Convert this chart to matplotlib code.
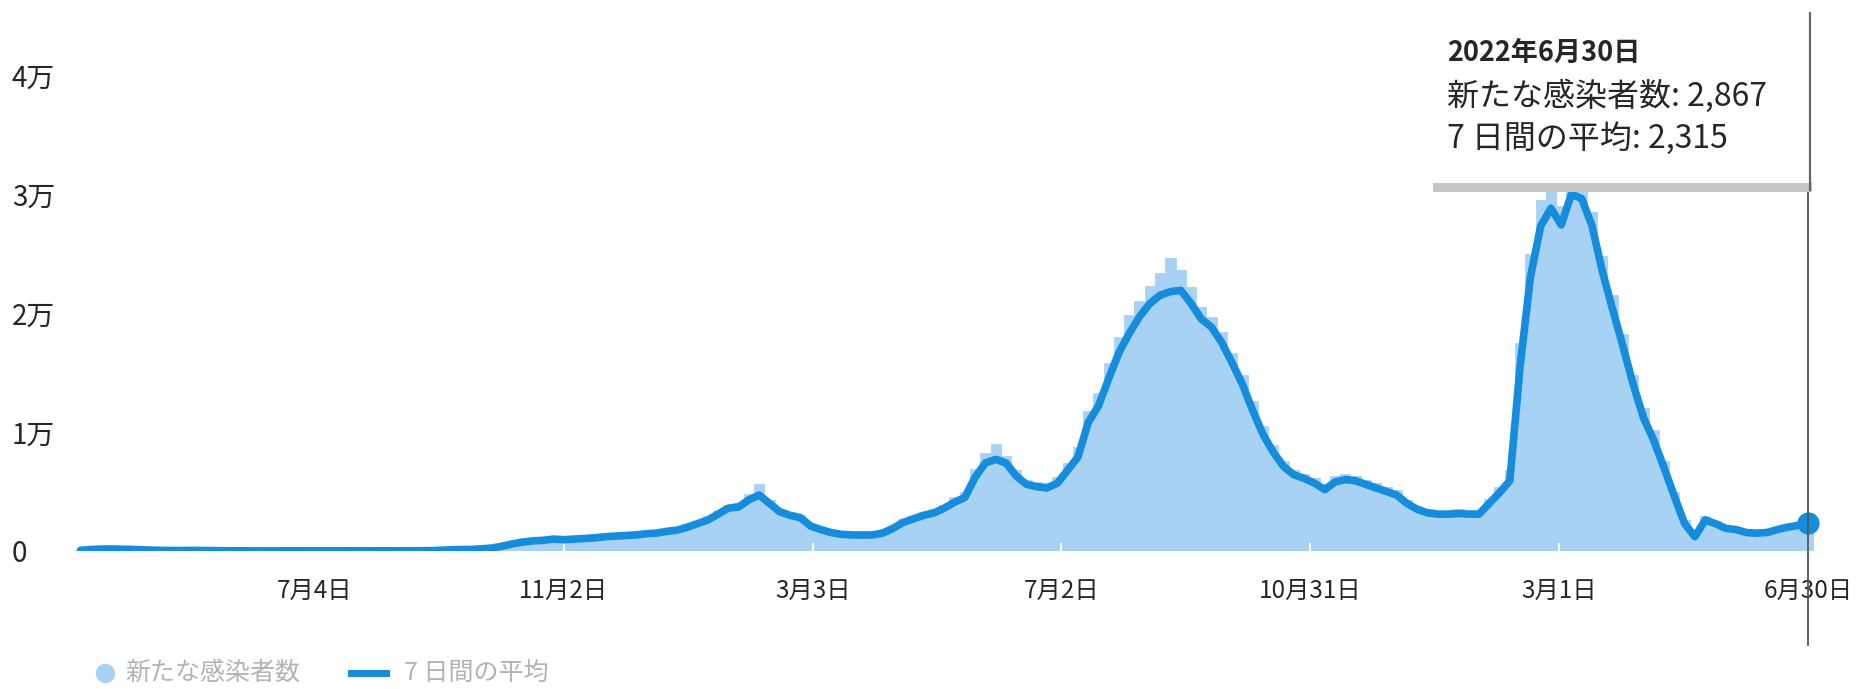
import numpy as np
import pandas as pd
import matplotlib
matplotlib.use('Agg')
import matplotlib.pyplot as plt
import matplotlib.dates as mdates
import matplotlib.transforms as mtransforms
from matplotlib.patches import Rectangle
from matplotlib.lines import Line2D

plt.rcParams['font.family'] = ['Noto Sans CJK JP', 'DejaVu Sans']

# ---------------- data ----------------
end_date = '2022-06-30'
step = '5D'

daily_cases = [
    80, 150, 190, 180, 170, 140, 110, 80, 60, 50,
    45, 60, 50, 35, 25, 20, 12, 12, 12, 10,
    12, 12, 10, 20, 12, 12, 18, 25, 18, 18,
    18, 25, 22, 25, 40, 80, 120, 140, 160, 230,
    320, 520, 700, 850, 950, 1000, 1100, 1050, 1150, 1200,
    1250, 1350, 1400, 1450, 1500, 1600, 1700, 1850, 1950, 2250,
    2550, 2900, 3400, 3900, 4000, 4800, 5600, 4300, 3500, 3300,
    3000, 2300, 1950, 1700, 1500, 1450, 1450, 1500, 1700, 2100,
    2700, 2900, 3300, 3500, 3900, 4500, 5000, 6900, 8200, 9000,
    8000, 6800, 6000, 5800, 5700, 6200, 7400, 8700, 11800, 13300,
    15800, 18000, 19800, 21000, 22300, 23400, 24600, 23600, 22200, 20500,
    19700, 18400, 16600, 14800, 12600, 10500, 8900, 7600, 6800, 6500,
    6100, 5600, 6300, 6500, 6300, 6000, 5700, 5400, 5100, 4300,
    3800, 3500, 3400, 3400, 3500, 3300, 3400, 4400, 5400, 6800,
    17500, 25000, 29500, 31500, 29000, 32000, 31000, 28500, 24800, 21500,
    18200, 14800, 12000, 10200, 7600, 5000, 2600, 1500, 2900, 2500,
    2100, 2000, 1700, 1650, 1700, 2000, 2200, 2400, 2867,
]

avg_7day = [
    60, 120, 160, 170, 150, 130, 100, 70, 50, 40,
    40, 50, 40, 30, 20, 15, 10, 10, 10, 10,
    10, 10, 10, 15, 10, 10, 15, 20, 15, 15,
    15, 20, 20, 20, 30, 60, 100, 120, 130, 180,
    250, 400, 600, 750, 850, 900, 1000, 950, 1000, 1050,
    1100, 1200, 1250, 1300, 1350, 1450, 1500, 1650, 1750, 2000,
    2300, 2600, 3100, 3600, 3700, 4300, 4700, 4000, 3300, 3000,
    2800, 2100, 1800, 1550, 1400, 1350, 1340, 1350, 1500, 1900,
    2400, 2700, 3000, 3200, 3600, 4100, 4500, 6200, 7400, 7700,
    7400, 6300, 5600, 5400, 5300, 5700, 6800, 7900, 10800, 12200,
    14500, 16700, 18300, 19700, 20800, 21500, 21800, 21900, 20800, 19500,
    18800, 17500, 15800, 14000, 11800, 9800, 8300, 7100, 6400, 6100,
    5700, 5150, 5800, 6000, 5900, 5600, 5300, 5000, 4700, 4000,
    3500, 3200, 3100, 3100, 3150, 3100, 3100, 4000, 4900, 5900,
    15500, 23000, 27300, 28800, 27400, 30000, 29600, 27300, 23500, 20300,
    17200, 14000, 11200, 9300, 7000, 4600, 2300, 1200, 2600, 2300,
    1900, 1800, 1550, 1500, 1550, 1800, 2000, 2150, 2315,
]

x_tick_dates = ['2020-07-04', '2020-11-02', '2021-03-03', '2021-07-02',
                '2021-10-31', '2022-03-01', '2022-06-30']
x_tick_labels = ['7月4日', '11月2日', '3月3日', '7月2日', '10月31日', '3月1日', '6月30日']
y_ticks = [0, 10000, 20000, 30000, 40000]
y_tick_labels = ['0', '1万', '2万', '3万', '4万']

tooltip_title = '2022年6月30日'
tooltip_lines = ['新たな感染者数: 2,867', '7 日間の平均: 2,315']
legend_labels = ['新たな感染者数', '7 日間の平均']

# ---------------- style ----------------
LINE_C = '#168cdc'
BAR_C = '#a8d2f3'
TXT_C = '#262626'

W, H = 1864, 689
fig = plt.figure(figsize=(W / 100, H / 100), dpi=100)
fig.patch.set_facecolor('white')


def fx(px):
    return px / W


def fy(py):
    return 1 - py / H


# axes geometry in pixels
ax_l, ax_r, ax_b, ax_t = 60, 1830, 551, 75
ax = fig.add_axes([fx(ax_l), fy(ax_b), (ax_r - ax_l) / W, (ax_b - ax_t) / H])

dates = pd.date_range(end=end_date, periods=len(avg_7day), freq=step)
xnum = mdates.date2num(dates)
end_num = mdates.date2num(pd.Timestamp(end_date))
px_per_day = 2.0565
ax.set_xlim(end_num - (1808 - ax_l) / px_per_day, end_num + (ax_r - 1808) / px_per_day)
ax.set_ylim(0, 40000)

ax.bar(xnum, daily_cases, width=5.0, color=BAR_C, edgecolor=BAR_C, linewidth=0.6,
       align='center', zorder=1)
ax.plot(xnum, avg_7day, color=LINE_C, lw=5.5, solid_joinstyle='round',
        solid_capstyle='round', zorder=3)
ax.plot([xnum[-1]], [avg_7day[-1]], 'o', color=LINE_C, ms=15, zorder=4, clip_on=False)

for s in ax.spines.values():
    s.set_visible(False)

ax.set_xticks(mdates.date2num(pd.to_datetime(x_tick_dates)))
ax.set_xticklabels(x_tick_labels, fontsize=17.5, color=TXT_C)
ax.tick_params(axis='x', direction='in', length=6, width=1.5, color='white', pad=19)
ax.set_axisbelow(False)

ax.set_yticks(y_ticks)
ax.set_yticklabels(y_tick_labels, fontsize=20, color=TXT_C)
ax.tick_params(axis='y', length=0, pad=(ax_l - 12) * 0.72)
for lab in ax.get_yticklabels():
    lab.set_horizontalalignment('left')

# crosshair line
trans = mtransforms.blended_transform_factory(ax.transData, fig.transFigure)
ax.add_line(Line2D([end_num, end_num], [fy(645), fy(13)], transform=trans,
                   color='#555555', lw=1.3, zorder=6, clip_on=False))

# tooltip box
fig.patches.append(Rectangle((fx(1433), fy(192)), (1812 - 1433) / W, (192 - 182) / H,
                             transform=fig.transFigure, facecolor='#c6c6c6',
                             edgecolor='none', zorder=5))
fig.patches.append(Rectangle((fx(1433), fy(183)), (1811 - 1433) / W, (183 - 10) / H,
                             transform=fig.transFigure, facecolor='white',
                             edgecolor='none', zorder=5))
fig.add_artist(Line2D([fx(1810), fx(1810)], [fy(190), fy(13)], transform=fig.transFigure,
                      color='#666666', lw=1.6, zorder=6))
fig.text(fx(1447), fy(53), tooltip_title, fontsize=19.5, fontweight='bold',
         color=TXT_C, va='center', ha='left', zorder=7)
fig.text(fx(1447), fy(96), tooltip_lines[0], fontsize=23, color=TXT_C,
         va='center', ha='left', zorder=7)
fig.text(fx(1447), fy(139), tooltip_lines[1], fontsize=23, color=TXT_C,
         va='center', ha='left', zorder=7)

# legend (bottom)
leg_y = 673
fig.add_artist(Line2D([fx(105)], [fy(leg_y)], marker='o', ms=13, color=BAR_C,
                      linestyle='none', transform=fig.transFigure))
fig.text(fx(125), fy(leg_y), legend_labels[0], fontsize=18, color='#b3b3b3',
         va='center', ha='left')
fig.add_artist(Line2D([fx(351), fx(386)], [fy(leg_y), fy(leg_y)], lw=5,
                      color=LINE_C, transform=fig.transFigure))
fig.text(fx(404), fy(leg_y), legend_labels[1], fontsize=18, color='#b3b3b3',
         va='center', ha='left')

fig.savefig('out.png', dpi=100, facecolor='white')
